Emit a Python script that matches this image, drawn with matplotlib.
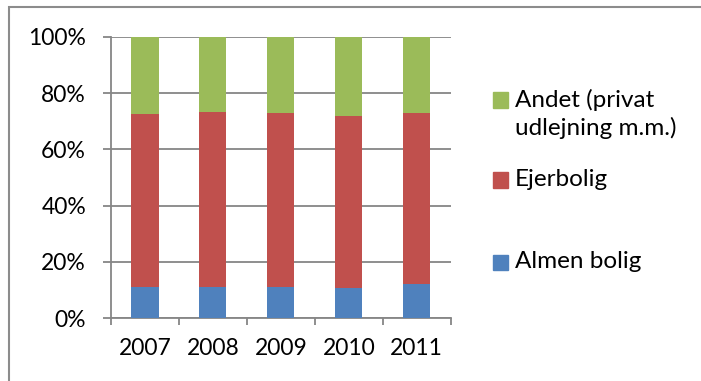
import matplotlib.pyplot as plt
import matplotlib.patches as mpatches
import numpy as np

plt.rcParams['font.family'] = ['Lato', 'DejaVu Sans']

years = ['2007', '2008', '2009', '2010', '2011']
almen = [11.1, 11.0, 11.0, 10.9, 12.2]
ejer = [61.6, 62.4, 61.9, 61.1, 60.6]
andet = [27.3, 26.6, 27.1, 28.0, 27.2]

labels = ['Almen bolig', 'Ejerbolig', 'Andet (privat\nudlejning m.m.)']
colors = ['#4f81bd', '#c0504d', '#9bbb59']

W, H = 701, 381
fig = plt.figure(figsize=(W / 100, H / 100), dpi=100)
ax = fig.add_axes([111 / W, 1 - 318.3 / H, (450.7 - 111) / W, (318.3 - 36.7) / H])

x = np.arange(len(years))
series = [almen, ejer, andet]
totals = np.sum(series, axis=0)
bottom = np.zeros(len(years))
for vals, c in zip(series, colors):
    pct = np.array(vals) / totals * 100
    ax.bar(x, pct, 0.4, bottom=bottom, color=c, zorder=3)
    bottom += pct

ax.set_xlim(-0.5, len(years) - 0.5)
ax.set_ylim(0, 100)
ax.set_yticks(np.arange(0, 101, 20))
ax.set_yticklabels([f'{v}%' for v in range(0, 101, 20)], fontsize=16.5)
ax.yaxis.grid(True, color='#868686', linewidth=1.3, zorder=0)

ax.set_xticks(x)
ax.set_xticklabels(years, fontsize=16.5)
ax.set_xticks(np.arange(-0.5, len(years), 1), minor=True)
ax.tick_params(axis='x', which='major', length=0, pad=14)
ax.tick_params(axis='x', which='minor', length=5, width=1.3, color='#868686', direction='out')
ax.tick_params(axis='y', length=6, width=1.3, color='#868686', direction='out', pad=12)

for side in ['top', 'right']:
    ax.spines[side].set_visible(False)
for side in ['left', 'bottom']:
    ax.spines[side].set_color('#868686')
    ax.spines[side].set_linewidth(1.3)

# legend, entries placed as in the original
leg_y = [100, 180, 262]
leg_order = [2, 1, 0]
for yy, i in zip(leg_y, leg_order):
    fig.add_artist(mpatches.Rectangle((493 / W, 1 - (yy + 7.5) / H), 14.5 / W, 15 / H,
                                      transform=fig.transFigure, color=colors[i]))
    fig.text(515 / W, 1 - (yy - 11.5) / H, labels[i], fontsize=17.5, va='top', ha='left',
             linespacing=1.35)

# chart border (cut off on the right and bottom)
fig.add_artist(mpatches.Rectangle((9 / W, -0.05), 1.0, 1 - 7 / H + 0.05, transform=fig.transFigure,
                                  fill=False, edgecolor='#8c8c8c', linewidth=1.5, clip_on=False))

fig.savefig('out.png', dpi=100)
